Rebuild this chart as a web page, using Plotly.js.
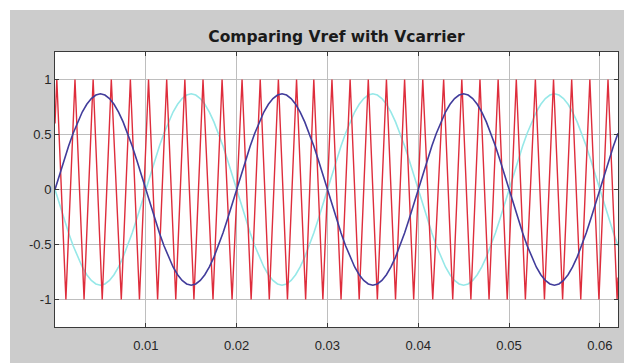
<!DOCTYPE html>
<html>
<head>
<meta charset="utf-8">
<script src="https://cdn.plot.ly/plotly-3.0.1.min.js"></script>
<style>
  html, body { margin: 0; padding: 0; background: #ffffff; width: 624px; height: 363px; overflow: hidden; }
  #chart { position: absolute; left: 10px; top: 10px; width: 614px; height: 353px; }
</style>
</head>
<body>
<div id="chart"></div>
<script>
// Sample spacing of the reference sine waves (seconds)
const sampleStart = 0;
const sampleStep = 0.0005;

// Vref (blue) at 0.5 ms steps, t = 0 .. 0.062
const vrefA = [
  0, 0.136, 0.269, 0.395, 0.511, 0.615, 0.704, 0.775, 0.827, 0.859,
  0.87, 0.859, 0.827, 0.775, 0.704, 0.615, 0.511, 0.395, 0.269, 0.136,
  0, -0.136, -0.269, -0.395, -0.511, -0.615, -0.704, -0.775, -0.827, -0.859,
  -0.87, -0.859, -0.827, -0.775, -0.704, -0.615, -0.511, -0.395, -0.269, -0.136,
  0, 0.136, 0.269, 0.395, 0.511, 0.615, 0.704, 0.775, 0.827, 0.859,
  0.87, 0.859, 0.827, 0.775, 0.704, 0.615, 0.511, 0.395, 0.269, 0.136,
  0, -0.136, -0.269, -0.395, -0.511, -0.615, -0.704, -0.775, -0.827, -0.859,
  -0.87, -0.859, -0.827, -0.775, -0.704, -0.615, -0.511, -0.395, -0.269, -0.136,
  0, 0.136, 0.269, 0.395, 0.511, 0.615, 0.704, 0.775, 0.827, 0.859,
  0.87, 0.859, 0.827, 0.775, 0.704, 0.615, 0.511, 0.395, 0.269, 0.136,
  0, -0.136, -0.269, -0.395, -0.511, -0.615, -0.704, -0.775, -0.827, -0.859,
  -0.87, -0.859, -0.827, -0.775, -0.704, -0.615, -0.511, -0.395, -0.269, -0.136,
  0, 0.136, 0.269, 0.395, 0.511
];

// Vref (cyan) at 0.5 ms steps
const vrefB = [
  0, -0.136, -0.269, -0.395, -0.511, -0.615, -0.704, -0.775, -0.827, -0.859,
  -0.87, -0.859, -0.827, -0.775, -0.704, -0.615, -0.511, -0.395, -0.269, -0.136,
  0, 0.136, 0.269, 0.395, 0.511, 0.615, 0.704, 0.775, 0.827, 0.859,
  0.87, 0.859, 0.827, 0.775, 0.704, 0.615, 0.511, 0.395, 0.269, 0.136,
  0, -0.136, -0.269, -0.395, -0.511, -0.615, -0.704, -0.775, -0.827, -0.859,
  -0.87, -0.859, -0.827, -0.775, -0.704, -0.615, -0.511, -0.395, -0.269, -0.136,
  0, 0.136, 0.269, 0.395, 0.511, 0.615, 0.704, 0.775, 0.827, 0.859,
  0.87, 0.859, 0.827, 0.775, 0.704, 0.615, 0.511, 0.395, 0.269, 0.136,
  0, -0.136, -0.269, -0.395, -0.511, -0.615, -0.704, -0.775, -0.827, -0.859,
  -0.87, -0.859, -0.827, -0.775, -0.704, -0.615, -0.511, -0.395, -0.269, -0.136,
  0, 0.136, 0.269, 0.395, 0.511, 0.615, 0.704, 0.775, 0.827, 0.859,
  0.87, 0.859, 0.827, 0.775, 0.704, 0.615, 0.511, 0.395, 0.269, 0.136,
  0, -0.136, -0.269, -0.395, -0.511
];

// Vcarrier (red triangle): vertex times
const carrierT = [
  0, 0.0002, 0.0012, 0.0022, 0.0032, 0.0042, 0.0052, 0.0062, 0.0073, 0.0083,
  0.0093, 0.0103, 0.0113, 0.0123, 0.0133, 0.0143, 0.0153, 0.0163, 0.0174, 0.0184,
  0.0195, 0.0206, 0.0216, 0.0226, 0.0236, 0.0246, 0.0256, 0.0266, 0.0276, 0.0285,
  0.0295, 0.0305, 0.0315, 0.0325, 0.0335, 0.0345, 0.0355, 0.0365, 0.0375, 0.0385,
  0.0395, 0.0405, 0.0416, 0.0428, 0.0438, 0.0448, 0.0458, 0.0468, 0.0478, 0.0488,
  0.0498, 0.0508, 0.0518, 0.0529, 0.0539, 0.0549, 0.0559, 0.0569, 0.0579, 0.0589,
  0.0599, 0.0609, 0.0619, 0.062
];
const carrierV = [
  0.6, 1, -1, 1, -1, 1, -1, 1, -1, 1,
  -1, 1, -1, 1, -1, 1, -1, 1, -1, 1,
  -1, 1, -1, 1, -1, 1, -1, 1, -1, 1,
  -1, 1, -1, 1, -1, 1, -1, 1, -1, 1,
  -1, 1, -1, 1, -1, 1, -1, 1, -1, 1,
  -1, 1, -1, 1, -1, 1, -1, 1, -1, 1,
  -1, 1, -1, -0.8
];

const xTickVals = [0.01, 0.02, 0.03, 0.04, 0.05, 0.06];
const xTickText = ['0.01', '0.02', '0.03', '0.04', '0.05', '0.06'];
const yTickVals = [-1, -0.5, 0, 0.5, 1];
const yTickText = ['-1', '-0.5', '0', '0.5', '1'];

const traces = [
  {
    type: 'scatter', mode: 'lines',
    x0: sampleStart, dx: sampleStep, y: vrefB,
    line: { color: 'rgb(150,232,232)', width: 1.6 },
    hoverinfo: 'skip', showlegend: false
  },
  {
    type: 'scatter', mode: 'lines',
    x: carrierT, y: carrierV,
    line: { color: 'rgb(222,45,60)', width: 1.4 },
    hoverinfo: 'skip', showlegend: false
  },
  {
    type: 'scatter', mode: 'lines',
    x0: sampleStart, dx: sampleStep, y: vrefA,
    line: { color: 'rgb(65,60,155)', width: 1.6 },
    hoverinfo: 'skip', showlegend: false
  }
];

const axisCommon = {
  showline: true, linecolor: '#3a3a3a', linewidth: 1, mirror: 'ticks',
  ticks: 'inside', ticklen: 4, tickcolor: '#3a3a3a',
  showgrid: true, gridcolor: 'rgb(190,190,190)', gridwidth: 1,
  zeroline: false,
  tickfont: { family: 'Liberation Sans, Arial, sans-serif', size: 13, color: '#262626' }
};

const layout = {
  width: 614, height: 353,
  margin: { l: 45, r: 6, t: 42, b: 36 },
  paper_bgcolor: 'rgb(204,204,204)',
  plot_bgcolor: '#ffffff',
  title: {
    text: '<b>Comparing Vref with Vcarrier</b>',
    font: { family: 'DejaVu Sans, sans-serif', size: 15.5, color: '#1a1a1a' },
    x: 0.5, xref: 'paper', y: 1, yref: 'paper', yanchor: 'bottom', pad: { b: 10 }
  },
  xaxis: Object.assign({}, axisCommon, {
    range: [0, 0.062], tickmode: 'array', tickvals: xTickVals, ticktext: xTickText,
    ticklabelstandoff: 6
  }),
  yaxis: Object.assign({}, axisCommon, {
    range: [-1.25, 1.25], tickmode: 'array', tickvals: yTickVals, ticktext: yTickText
  })
};

Plotly.newPlot('chart', traces, layout, { staticPlot: true, displayModeBar: false });
</script>
</body>
</html>
